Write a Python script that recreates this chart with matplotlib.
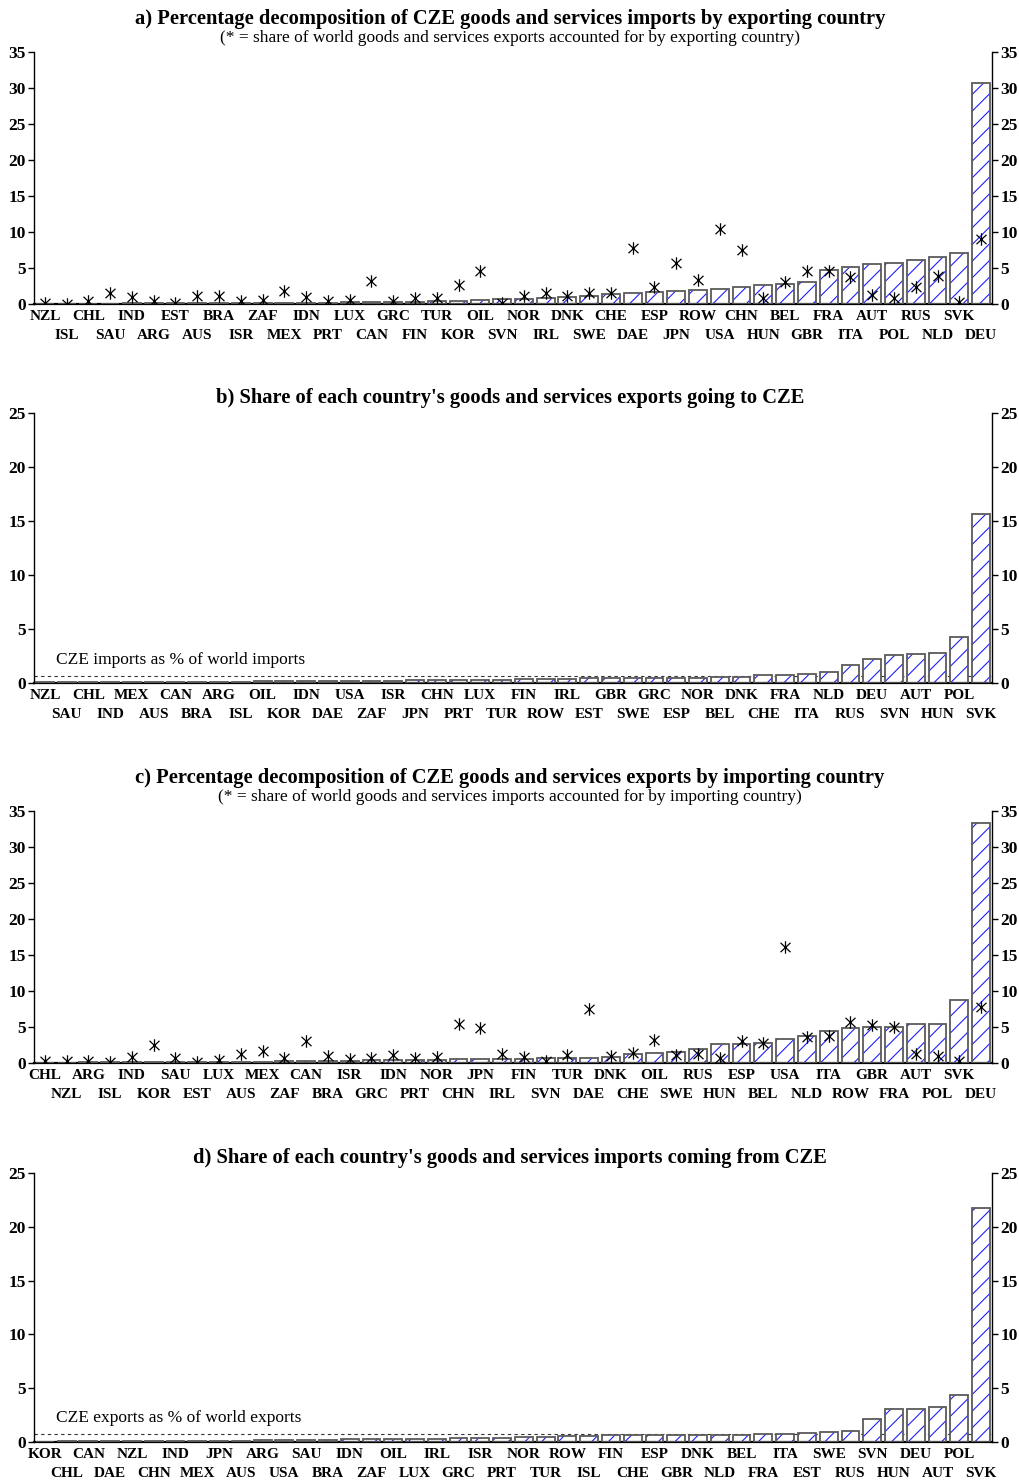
import matplotlib
matplotlib.use("Agg")
import matplotlib.pyplot as plt
from matplotlib.path import Path

plt.rcParams['font.family'] = ['Liberation Serif', 'DejaVu Serif']
plt.rcParams['hatch.color'] = '#1f1fff'
plt.rcParams['hatch.linewidth'] = 0.8

# a) CZE imports by exporting country
a_labels = ["NZL", "ISL", "CHL", "SAU", "IND", "ARG", "EST", "AUS", "BRA", "ISR", "ZAF",
            "MEX", "IDN", "PRT", "LUX", "CAN", "GRC", "FIN", "TUR", "KOR", "OIL", "SVN",
            "NOR", "IRL", "DNK", "SWE", "CHE", "DAE", "ESP", "JPN", "ROW", "USA", "CHN",
            "HUN", "BEL", "GBR", "FRA", "ITA", "AUT", "POL", "RUS", "NLD", "SVK", "DEU"]
a_bars = [0.05, 0.05, 0.06, 0.07, 0.08, 0.09, 0.10, 0.10, 0.12, 0.12, 0.13,
          0.14, 0.17, 0.20, 0.25, 0.27, 0.32, 0.35, 0.37, 0.38, 0.60, 0.65,
          0.70, 0.88, 0.93, 1.06, 1.43, 1.48, 1.62, 1.85, 2.0, 2.13, 2.3,
          2.6, 2.73, 3.0, 4.68, 5.1, 5.5, 5.65, 6.15, 6.6, 7.04, 30.7]
a_stars = [0.2, 0.05, 0.45, 1.5, 1.0, 0.45, 0.1, 1.15, 1.15, 0.4, 0.5,
           1.85, 1.0, 0.45, 0.55, 3.25, 0.4, 0.9, 0.9, 2.65, 4.65, 0.1,
           1.1, 1.5, 1.1, 1.5, 1.5, 7.8, 2.3, 5.65, 3.3, 10.4, 7.5,
           0.9, 3.1, 4.6, 4.6, 3.7, 1.25, 0.9, 2.3, 3.9, 0.25, 9.1]

# b) share of each country's exports going to CZE
b_labels = ["NZL", "SAU", "CHL", "IND", "MEX", "AUS", "CAN", "BRA", "ARG", "ISL", "OIL",
            "KOR", "IDN", "DAE", "USA", "ZAF", "ISR", "JPN", "CHN", "PRT", "LUX", "TUR",
            "FIN", "ROW", "IRL", "EST", "GBR", "SWE", "GRC", "ESP", "NOR", "BEL", "DNK",
            "CHE", "FRA", "ITA", "NLD", "RUS", "DEU", "SVN", "AUT", "HUN", "POL", "SVK"]
b_bars = [0.08, 0.08, 0.09, 0.09, 0.10, 0.10, 0.11, 0.12, 0.13, 0.14, 0.15,
          0.19, 0.19, 0.19, 0.20, 0.22, 0.22, 0.25, 0.25, 0.26, 0.31, 0.32,
          0.37, 0.37, 0.38, 0.43, 0.43, 0.50, 0.50, 0.50, 0.51, 0.55, 0.56,
          0.71, 0.72, 0.86, 1.05, 1.7, 2.2, 2.6, 2.65, 2.75, 4.3, 15.65]
b_ref = 0.62

# c) CZE exports by importing country
c_labels = ["CHL", "NZL", "ARG", "ISL", "IND", "KOR", "SAU", "EST", "LUX", "AUS", "MEX",
            "ZAF", "CAN", "BRA", "ISR", "GRC", "IDN", "PRT", "NOR", "CHN", "JPN", "IRL",
            "FIN", "SVN", "TUR", "DAE", "DNK", "CHE", "OIL", "SWE", "RUS", "HUN", "ESP",
            "BEL", "USA", "NLD", "ITA", "ROW", "GBR", "FRA", "AUT", "POL", "SVK", "DEU"]
c_bars = [0.05, 0.06, 0.08, 0.09, 0.10, 0.12, 0.13, 0.15, 0.16, 0.18, 0.20,
          0.28, 0.30, 0.31, 0.35, 0.40, 0.44, 0.45, 0.46, 0.50, 0.52, 0.55,
          0.60, 0.64, 0.66, 0.70, 0.85, 1.25, 1.4, 1.5, 1.9, 2.6, 2.7,
          2.85, 3.3, 3.7, 4.4, 4.8, 5.0, 5.05, 5.4, 5.42, 8.75, 33.4]
c_stars = [0.3, 0.3, 0.3, 0.1, 0.9, 2.45, 0.7, 0.15, 0.45, 1.2, 1.7,
           0.7, 3.1, 1.0, 0.6, 0.7, 1.15, 0.7, 0.85, 5.4, 4.85, 1.25,
           0.9, 0.25, 1.05, 7.45, 1.0, 1.4, 3.2, 1.15, 1.3, 0.7, 3.0,
           2.85, 16.1, 3.6, 3.7, 5.75, 5.3, 5.0, 1.2, 1.0, 0.25, 7.85]

# d) share of each country's imports coming from CZE
d_labels = ["KOR", "CHL", "CAN", "DAE", "NZL", "CHN", "IND", "MEX", "JPN", "AUS", "ARG",
            "USA", "SAU", "BRA", "IDN", "ZAF", "OIL", "LUX", "IRL", "GRC", "ISR", "PRT",
            "NOR", "TUR", "ROW", "ISL", "FIN", "CHE", "ESP", "GBR", "DNK", "NLD", "BEL",
            "FRA", "ITA", "EST", "SWE", "RUS", "SVN", "HUN", "DEU", "AUT", "POL", "SVK"]
d_bars = [0.05, 0.06, 0.07, 0.08, 0.09, 0.10, 0.11, 0.12, 0.13, 0.14, 0.16,
          0.17, 0.19, 0.22, 0.25, 0.26, 0.28, 0.29, 0.30, 0.40, 0.40, 0.41,
          0.46, 0.46, 0.60, 0.60, 0.61, 0.61, 0.63, 0.63, 0.64, 0.70, 0.70,
          0.71, 0.74, 0.80, 0.93, 1.0, 2.15, 3.08, 3.08, 3.27, 4.35, 21.7]
d_ref = 0.71

# asterisk: an X plus a vertical stroke
star_marker = Path([(0, -1), (0, 1), (-0.8, -0.75), (0.8, 0.75), (-0.8, 0.75), (0.8, -0.75)],
                   [Path.MOVETO, Path.LINETO, Path.MOVETO, Path.LINETO, Path.MOVETO, Path.LINETO])


def draw_panel(ax, labels, bars, ymax, stars=None, ref=None, ref_text=None):
    x = list(range(len(labels)))
    # hatch layer (blue), then grey outline on top
    ax.bar(x, bars, width=0.82, color='white', edgecolor='#1f1fff', linewidth=0,
           hatch='//', zorder=2)
    ax.bar(x, bars, width=0.82, fill=False, edgecolor='#5a5a5a', linewidth=1.3, zorder=3)
    if stars is not None:
        ax.plot(x, stars, linestyle='none', marker=star_marker, markersize=9,
                markeredgewidth=0.9, color='black', zorder=4)
    if ref is not None:
        ax.axhline(ref, color='#333333', linestyle=(0, (3, 3)), linewidth=0.8, zorder=1)
        ax.text(0.5, ref + 0.75, ref_text, fontsize=12.5, ha='left', va='bottom')
    ax.set_xlim(-0.5, len(labels) - 0.5)
    ax.set_ylim(0, ymax)
    ax.set_yticks(range(0, ymax + 1, 5))
    # alternate labels on two rows
    ax.set_xticks(x[0::2], labels[0::2], fontsize=11, fontweight='bold')
    ax.set_xticks(x[1::2], labels[1::2], minor=True, fontsize=11, fontweight='bold')
    ax.tick_params(axis='x', which='major', length=0, pad=4)
    ax.tick_params(axis='x', which='minor', length=0, pad=17.7)
    ax.tick_params(axis='y', direction='out', length=4, width=1, left=True, right=True,
                   labelleft=True, labelright=True, labelsize=12.5, pad=2)
    for t in ax.get_yticklabels():
        t.set_fontweight('bold')
    ax.spines['top'].set_visible(False)
    ax.spines['bottom'].set_linewidth(1.6)
    ax.spines['left'].set_linewidth(1.0)
    ax.spines['right'].set_linewidth(1.0)


fig = plt.figure(figsize=(10.2, 14.81), dpi=100)
left, width = 0.0333, 0.9392

ax_a = fig.add_axes([left, 0.7947, width, 0.1702])
draw_panel(ax_a, a_labels, a_bars, 35, stars=a_stars)
fig.text(0.5, 0.9871, "a) Percentage decomposition of CZE goods and services imports by exporting country",
         ha='center', va='center', fontsize=14.8, fontweight='bold')
fig.text(0.5, 0.9743, "(* = share of world goods and services exports accounted for by exporting country)",
         ha='center', va='center', fontsize=12.5)

ax_b = fig.add_axes([left, 0.5388, width, 0.1823])
draw_panel(ax_b, b_labels, b_bars, 25, ref=b_ref, ref_text="CZE imports as % of world imports")
fig.text(0.5, 0.7312, "b) Share of each country's goods and services exports going to CZE",
         ha='center', va='center', fontsize=14.8, fontweight='bold')

ax_c = fig.add_axes([left, 0.2822, width, 0.1702])
draw_panel(ax_c, c_labels, c_bars, 35, stars=c_stars)
fig.text(0.5, 0.4746, "c) Percentage decomposition of CZE goods and services exports by importing country",
         ha='center', va='center', fontsize=14.8, fontweight='bold')
fig.text(0.5, 0.4618, "(* = share of world goods and services imports accounted for by importing country)",
         ha='center', va='center', fontsize=12.5)

ax_d = fig.add_axes([left, 0.0263, width, 0.1817])
draw_panel(ax_d, d_labels, d_bars, 25, ref=d_ref, ref_text="CZE exports as % of world exports")
fig.text(0.5, 0.2181, "d) Share of each country's goods and services imports coming from CZE",
         ha='center', va='center', fontsize=14.8, fontweight='bold')

fig.savefig("out.png", dpi=100)
